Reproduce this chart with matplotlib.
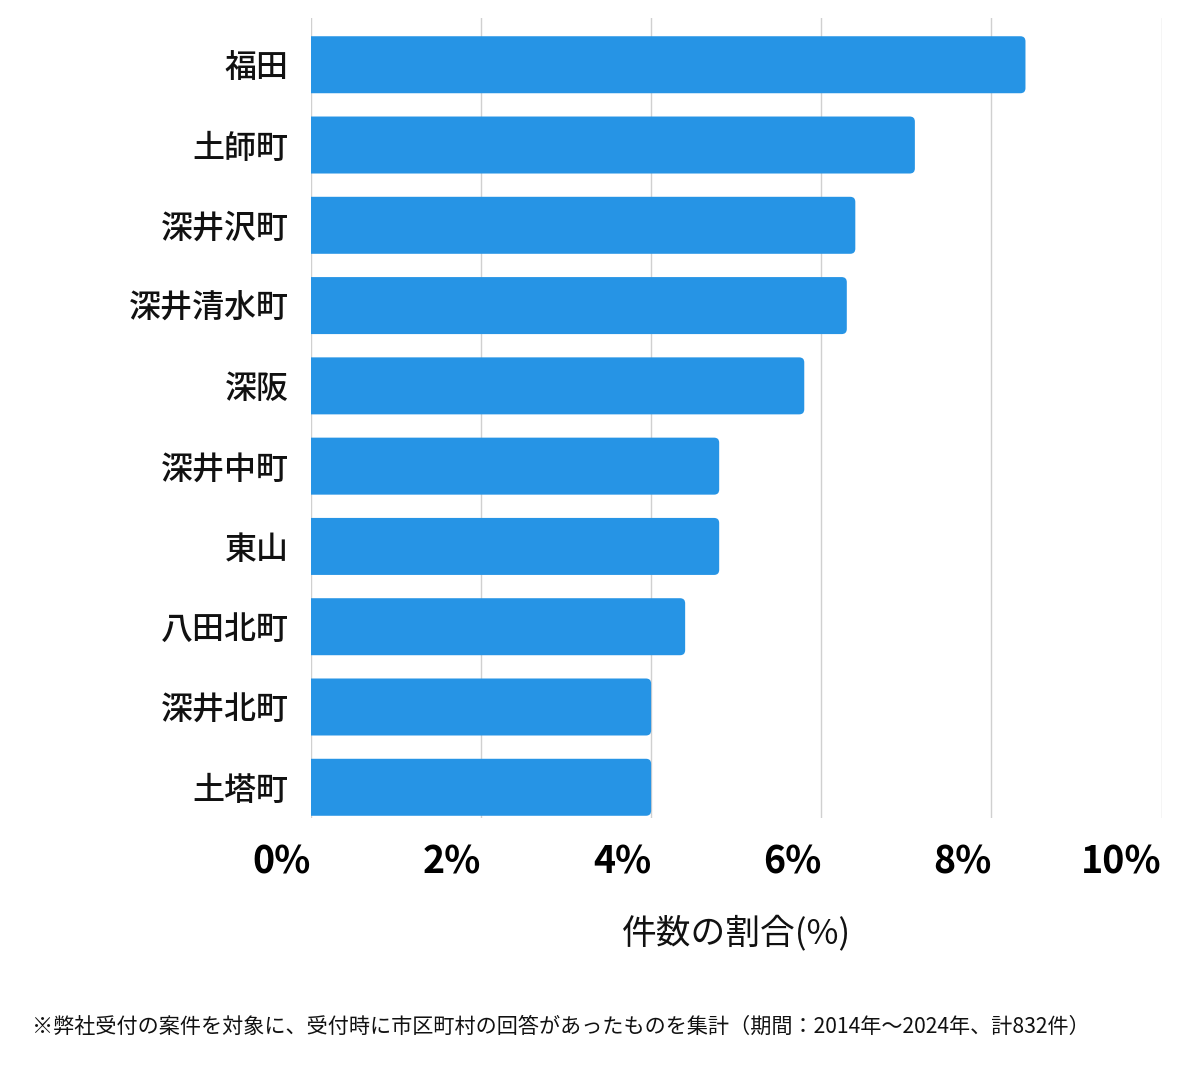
import numpy as np
import matplotlib.pyplot as plt
from matplotlib.patches import FancyBboxPatch

plt.rcParams['font.family'] = ['Noto Sans CJK JP', 'DejaVu Sans']

# data (share of cases, %)
areas = ['福田', '土師町', '深井沢町', '深井清水町', '深阪', '深井中町', '東山', '八田北町', '深井北町', '土塔町']
shares = [8.40, 7.10, 6.40, 6.30, 5.80, 4.80, 4.80, 4.40, 4.00, 4.00]
xticks = [0, 2, 4, 6, 8, 10]
xtick_labels = ['0%', '2%', '4%', '6%', '8%', '10%']

bar_color = '#2694e5'
bar_h = 0.71

fig = plt.figure(figsize=(12, 10.69), dpi=100)
ax = fig.add_axes([0.259, 0.235, 0.709, 0.748])

y = np.arange(len(areas))
# rounded bars; left end starts off-axes so only the right corners show rounded
for yi, v in zip(y, shares):
    ax.add_patch(FancyBboxPatch((-0.2, yi - bar_h / 2), v + 0.2, bar_h,
                                boxstyle='round,pad=0,rounding_size=0.06',
                                mutation_aspect=1.06, fc=bar_color, ec='none', zorder=3))

ax.set_xlim(0, 10)
ax.set_ylim(9.38, -0.58)
ax.set_yticks(y)
ax.set_yticklabels(areas, fontsize=23, fontweight='medium', color='#111111')
ax.set_xticks(xticks)
ax.set_xticklabels(xtick_labels, fontsize=27, fontweight='bold', ha='right')
ax.tick_params(axis='both', length=0)
ax.tick_params(axis='y', pad=16)
ax.tick_params(axis='x', pad=18)
ax.grid(axis='x', color='#d0d0d0', linewidth=1, zorder=0)
for s in ax.spines.values():
    s.set_visible(False)

ax.set_xlabel('件数の割合(%)', fontsize=25, labelpad=24, color='#111111')

fig.text(0.027, 0.039, '※弊社受付の案件を対象に、受付時に市区町村の回答があったものを集計（期間：2014年～2024年、計832件）',
         fontsize=15.2, va='center', color='#111111')

fig.savefig('out.png', dpi=100)
